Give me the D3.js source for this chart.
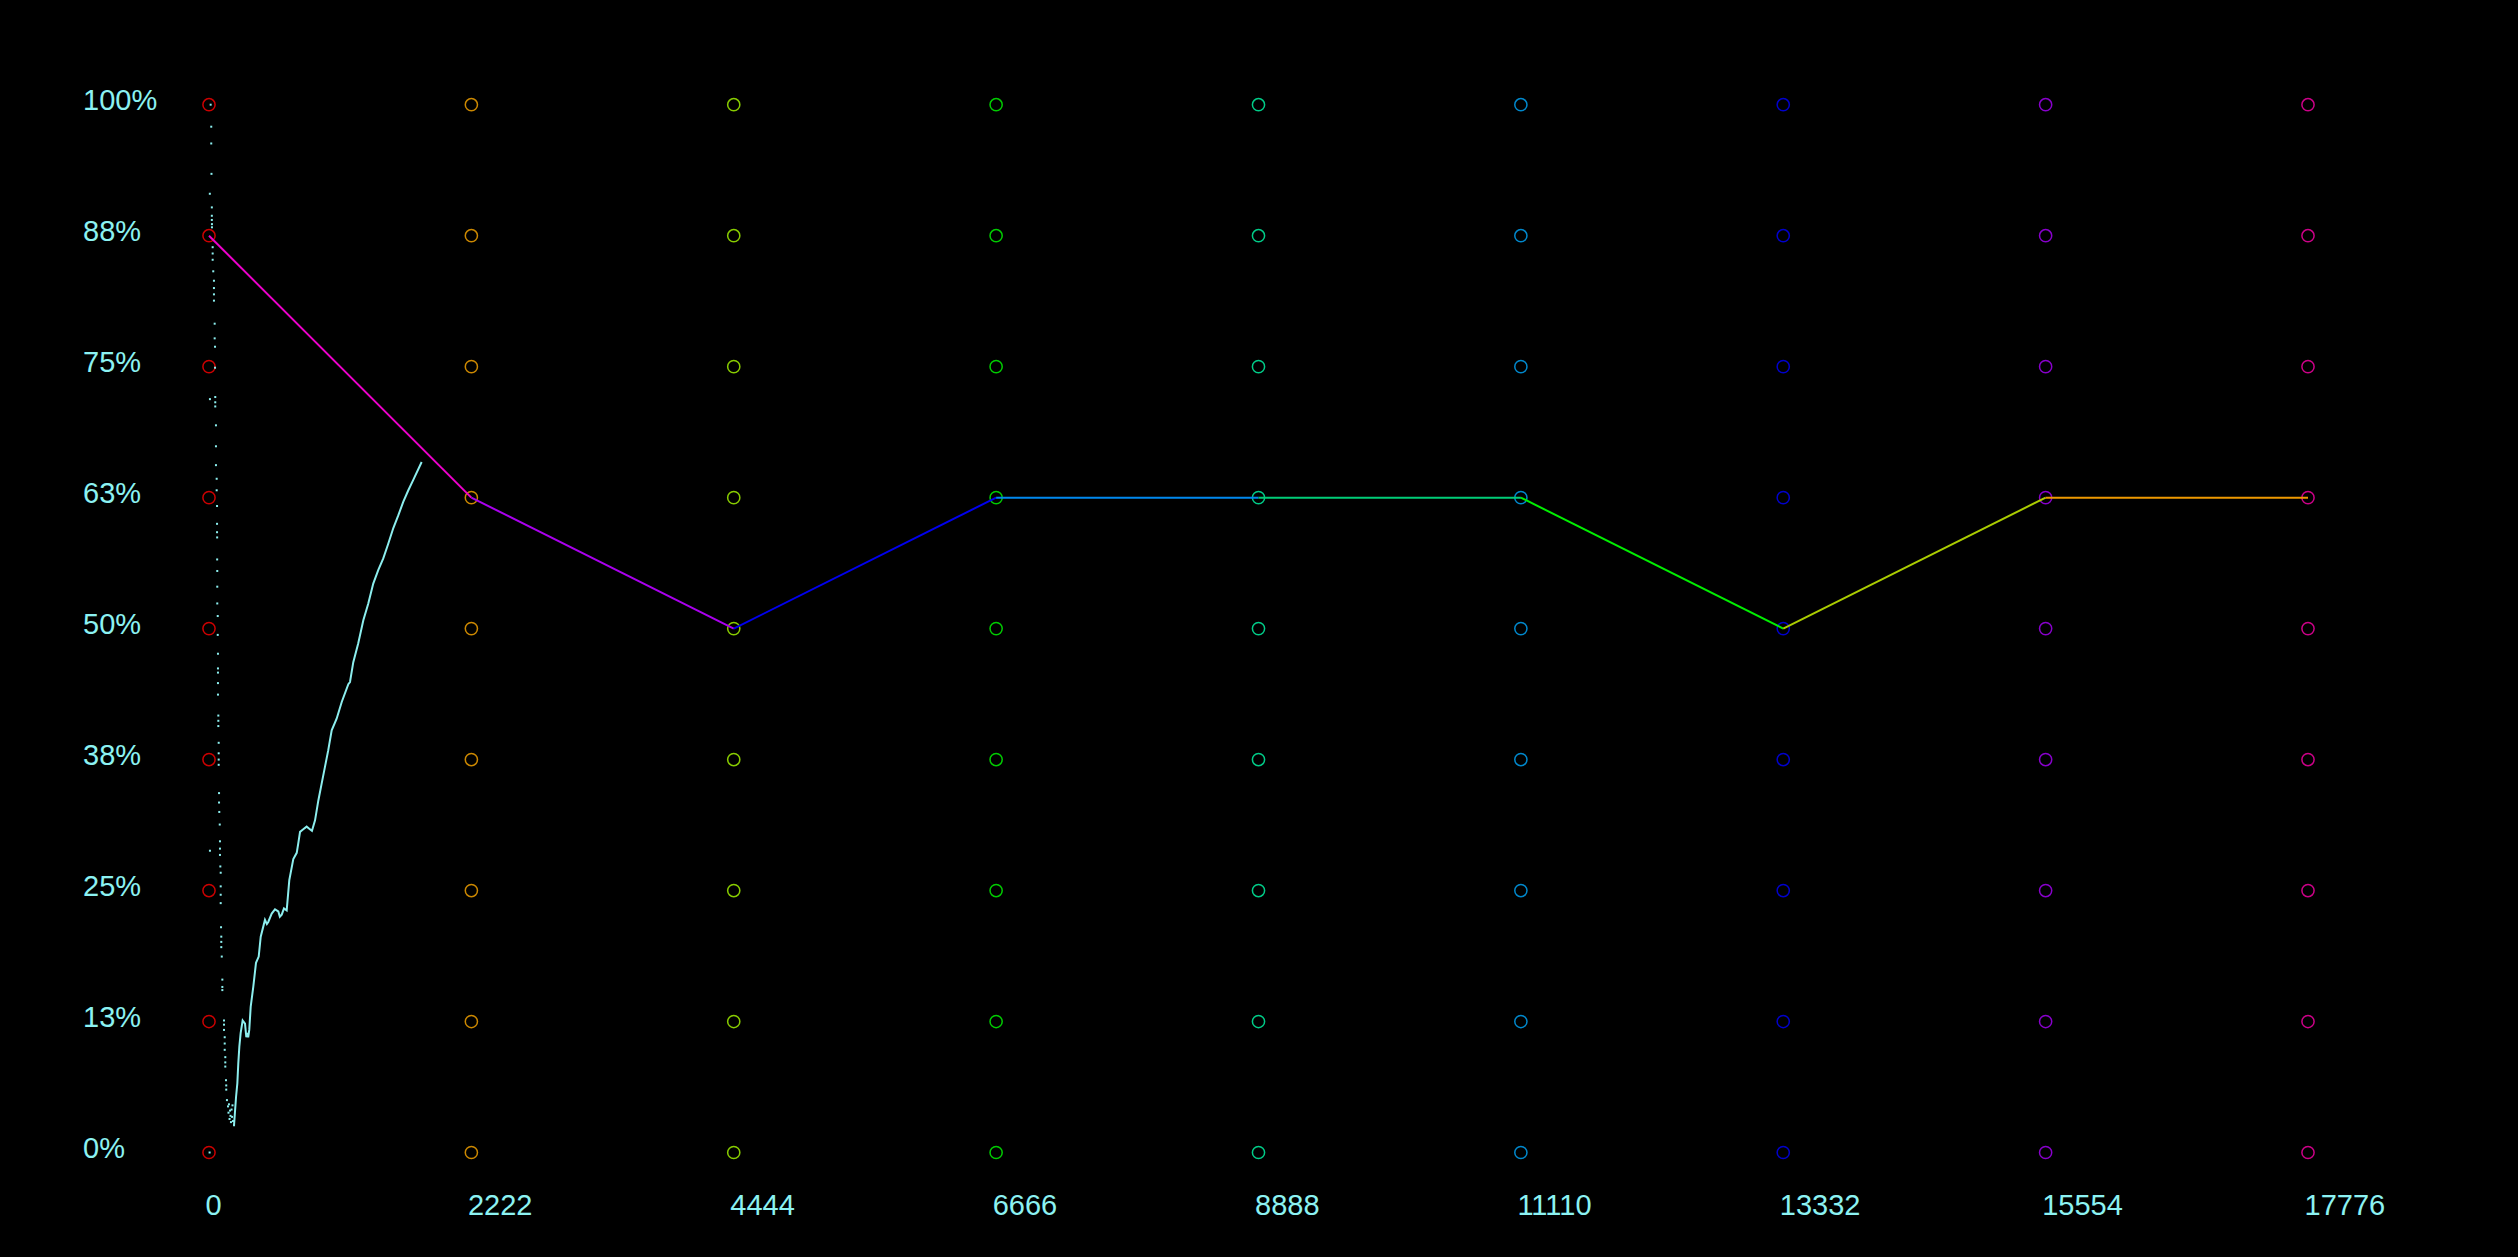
<!DOCTYPE html>
<html>
<head>
<meta charset="utf-8">
<script src="https://cdn.jsdelivr.net/npm/d3@7"></script>
<style>
  html, body { margin: 0; padding: 0; background: #000; }
  svg { display: block; }
</style>
</head>
<body>
<svg id="chart" width="2518" height="1257"></svg>
<script>
// ---- data ----
const xTicks = [0, 2222, 4444, 6666, 8888, 11110, 13332, 15554, 17776];
const yTicks = [0, 12.5, 25, 37.5, 50, 62.5, 75, 87.5, 100];
const yTickLabels = ["0%", "13%", "25%", "38%", "50%", "63%", "75%", "88%", "100%"];

// checkpoint accuracy at each column (%)
const checkpointAcc = [87.5, 62.5, 50, 62.5, 62.5, 62.5, 50, 62.5, 62.5];

// early running accuracy, sparse samples drawn as dots [iteration, %]
const earlySamples = [
  [5, 0], [14, 100], [19, 97.9], [19, 96.3], [21, 93.4], [7, 91.5], [24, 90.2],
  [24, 89.4], [24, 89.0], [25, 88.6], [25, 88.3], [31, 86.4], [31, 85.8], [31, 85.2],
  [36, 84.1], [42, 83.2], [42, 82.5], [42, 81.9], [42, 81.3], [48, 79.1], [48, 77.7],
  [51, 76.9], [51, 74.9], [53, 72.1], [53, 71.6], [53, 71.2], [8, 71.9], [59, 69.4],
  [59, 67.4], [59, 65.6], [65, 64.3], [65, 63.2], [68, 61.7], [68, 60.0], [68, 59.2],
  [69, 58.7], [69, 56.6], [70, 55.5], [70, 54.0], [70, 52.4], [74, 51.2], [74, 49.4],
  [76, 47.6], [76, 46.2], [76, 45.8], [76, 44.8], [76, 43.7], [79, 41.7], [79, 41.2],
  [79, 40.7], [82, 39.1], [82, 38.1], [82, 37.5], [82, 37.0], [85, 34.3], [85, 33.4],
  [87, 32.5], [91, 31.3], [93, 29.7], [93, 29.0], [93, 28.4], [8, 28.8], [96, 27.3],
  [99, 26.7], [99, 25.4], [99, 24.6], [99, 23.8], [102, 21.5], [104, 20.6], [104, 20.1],
  [104, 19.6], [108, 18.7], [113, 16.5], [113, 15.8], [113, 15.5], [127, 12.6],
  [127, 12.2], [127, 11.7], [133, 11.0], [133, 10.4], [133, 9.8], [138, 9.1], [138, 8.6],
  [138, 8.2], [144, 6.9], [146, 6.4], [146, 6.0], [152, 5.0], [161, 4.4], [165, 3.8],
  [169, 4.6], [174, 3.2], [178, 4.0], [182, 3.5], [186, 2.9], [191, 4.1], [195, 3.4],
  [199, 4.5], [203, 3.0], [212, 2.6]
];

// later running accuracy, dense enough to read as a line [iteration, %]
const runningAcc = [
  [212, 2.6], [229, 5.3], [240, 6.6], [248, 8.5], [257, 10.1], [268, 11.4], [285, 12.6],
  [305, 12.3], [316, 11.0], [324, 11.4], [332, 11.0], [341, 11.7], [353, 13.9], [375, 15.8],
  [398, 18.1], [421, 18.7], [438, 20.6], [474, 22.2], [490, 21.8], [502, 22.0], [531, 22.8],
  [559, 23.2], [587, 23.0], [600, 22.5], [616, 22.7], [635, 23.3], [658, 23.1], [680, 26.0],
  [714, 28.0], [743, 28.6], [756, 29.5], [771, 30.6], [793, 30.8], [827, 31.1], [849, 30.9],
  [872, 30.7], [898, 31.7], [926, 33.6], [954, 35.2], [982, 36.8], [1010, 38.4], [1039, 40.3],
  [1081, 41.4], [1124, 43.0], [1180, 44.7], [1194, 44.9], [1222, 46.8], [1264, 48.6],
  [1307, 50.8], [1349, 52.4], [1391, 54.3], [1434, 55.6], [1476, 56.7], [1518, 58.1],
  [1561, 59.6], [1603, 60.8], [1645, 62.1], [1688, 63.2], [1730, 64.2], [1801, 65.9]
];

// ---- styles ----
const textColor = "#8cf2f2";
const traceColor = "#8ceeee";
const columnHues = [0, 40, 80, 120, 160, 200, 240, 280, 320];
const segmentColors = ["#ee00cc", "#aa00ee", "#0000ee", "#0088ee", "#00cc77", "#00ee00", "#aacc00", "#ee9900"];
const fontFamily = "'Liberation Sans', Arial, sans-serif";

const svg = d3.select("#chart");
svg.append("rect").attr("width", 2518).attr("height", 1257).attr("fill", "#000");

const x = d3.scaleLinear().domain([0, 17776]).range([209, 2308]);
const y = d3.scaleLinear().domain([0, 100]).range([1152.5, 104.7]);

// grid circles
const cells = [];
xTicks.forEach((xv, i) => yTicks.forEach(yv => cells.push({ xv, yv, i })));
svg.append("g").selectAll("circle").data(cells).join("circle")
  .attr("cx", d => x(d.xv)).attr("cy", d => y(d.yv)).attr("r", 6.1)
  .attr("fill", "none").attr("stroke-width", 1.5)
  .attr("stroke", d => d3.hsl(columnHues[d.i], 1, 0.4).formatHex());

// checkpoint line segments
const segs = d3.pairs(xTicks.map((xv, i) => ({ xv, yv: checkpointAcc[i] })));
svg.append("g").selectAll("line").data(segs).join("line")
  .attr("x1", d => x(d[0].xv)).attr("y1", d => y(d[0].yv))
  .attr("x2", d => x(d[1].xv)).attr("y2", d => y(d[1].yv))
  .attr("stroke", (d, i) => segmentColors[i]).attr("stroke-width", 2);

// early dots
svg.append("g").selectAll("rect").data(earlySamples).join("rect")
  .attr("x", d => x(d[0]) - 1).attr("y", d => y(d[1]) - 1)
  .attr("width", 2).attr("height", 2).attr("fill", traceColor);

// running accuracy line
svg.append("path").datum(runningAcc)
  .attr("d", d3.line().x(d => x(d[0])).y(d => y(d[1])))
  .attr("fill", "none").attr("stroke", traceColor).attr("stroke-width", 2);

// axes
const yAxis = svg.append("g").call(
  d3.axisLeft(y).tickValues(yTicks).tickFormat((d, i) => yTickLabels[i]).tickSize(0));
yAxis.select(".domain").remove();
yAxis.selectAll("text")
  .attr("x", 83).attr("dy", "0.18em").attr("text-anchor", "start")
  .attr("fill", textColor).style("font-family", fontFamily).style("font-size", "29px");

const xAxis = svg.append("g").attr("transform", "translate(0,1215)").call(
  d3.axisBottom(x).tickValues(xTicks).tickFormat(d3.format("d")).tickSize(0));
xAxis.select(".domain").remove();
xAxis.selectAll("text")
  .attr("x", -4).attr("y", 0).attr("dy", 0).attr("text-anchor", "start")
  .attr("fill", textColor).style("font-family", fontFamily).style("font-size", "29px");
</script>
</body>
</html>
